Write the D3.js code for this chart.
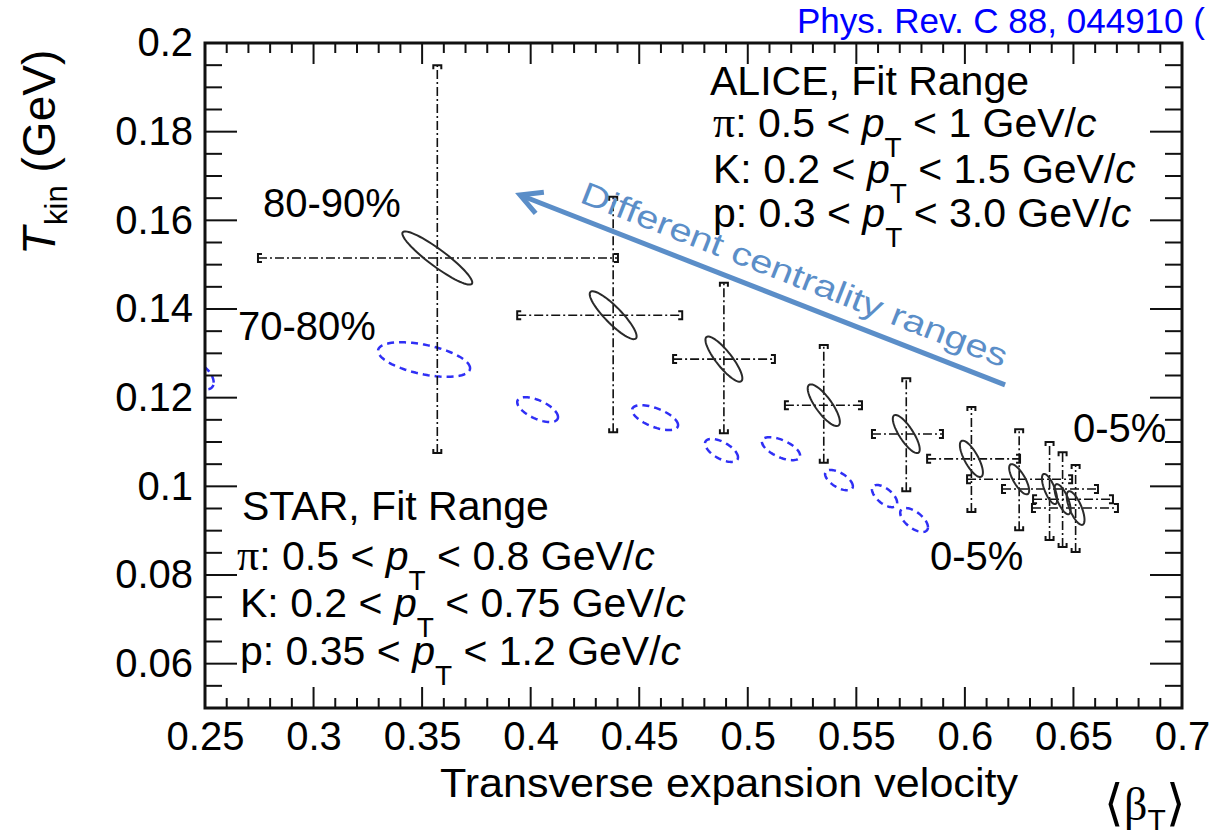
<!DOCTYPE html>
<html>
<head>
<meta charset="utf-8">
<script src="https://cdn.jsdelivr.net/npm/d3@7"></script>
<style>
  body { margin: 0; background: #fff; }
  svg text { font-family: "Liberation Sans", Arial, sans-serif; }
</style>
</head>
<body>
<svg id="chart" width="1210" height="836"></svg>
<script>
// ALICE blast-wave fits (black): centre, error bar ends, contour size + correlation
const aliceBeta   = [0.357, 0.438, 0.489, 0.535, 0.573, 0.603, 0.625, 0.639, 0.645, 0.651]
const aliceTkin   = [0.1515, 0.1386, 0.1287, 0.1183, 0.1118, 0.1062, 0.1016, 0.0994, 0.0971, 0.0951]
const aliceBetaLo = [0.2744, 0.3938, 0.4656, 0.5171, 0.5572, 0.5826, 0.601, 0.6171, 0.6314, 0.6309]
const aliceBetaHi = [0.4402, 0.4698, 0.5125, 0.5526, 0.5899, 0.6254, 0.6494, 0.6613, 0.6682, 0.6705]
const aliceTkinLo = [0.1075, 0.1122, 0.112, 0.1053, 0.0989, 0.0942, 0.0901, 0.0879, 0.0863, 0.0852]
const aliceTkinHi = [0.195, 0.1653, 0.1459, 0.1319, 0.1244, 0.1179, 0.1129, 0.11, 0.1077, 0.1048]
const aliceSigBeta = [0.0161, 0.0108, 0.0085, 0.0074, 0.0062, 0.0053, 0.0046, 0.0035, 0.0037, 0.0041]
const aliceSigTkin = [0.006, 0.0054, 0.0051, 0.0047, 0.0043, 0.0041, 0.0034, 0.0034, 0.0034, 0.0038]
const aliceRho     = [-0.92, -0.88, -0.85, -0.8, -0.8, -0.75, -0.75, -0.7, -0.7, -0.7]

// STAR contours (blue dashed)
const starBeta    = [0.248, 0.3509, 0.4032, 0.4573, 0.4879, 0.5153, 0.542, 0.563, 0.5766]
const starTkin    = [0.1249, 0.1286, 0.1173, 0.1155, 0.1081, 0.1085, 0.1014, 0.0978, 0.0924]
const starSigBeta = [0.006, 0.0212, 0.0094, 0.0106, 0.0076, 0.0088, 0.0064, 0.0058, 0.0064]
const starSigTkin = [0.003, 0.0039, 0.0028, 0.0028, 0.0026, 0.0026, 0.0023, 0.0025, 0.0027]
const starRho     = [-0.5, -0.5, -0.6, -0.6, -0.6, -0.6, -0.6, -0.6, -0.6]

// axes
const xTickValues = [0.25, 0.3, 0.35, 0.4, 0.45, 0.5, 0.55, 0.6, 0.65, 0.7]
const xTickLabels = ["0.25", "0.3", "0.35", "0.4", "0.45", "0.5", "0.55", "0.6", "0.65", "0.7"]
const yTickValues = [0.06, 0.08, 0.1, 0.12, 0.14, 0.16, 0.18, 0.2]
const yTickLabels = ["0.06", "0.08", "0.1", "0.12", "0.14", "0.16", "0.18", "0.2"]

// centrality labels, placed in data coordinates
const centLabels = ["80-90%", "70-80%", "0-5%", "0-5%"]
const centLabelBeta = [0.2767, 0.2652, 0.6498, 0.5839]
const centLabelTkin = [0.1607, 0.133, 0.110, 0.0811]

// arrow (tail -> head) in data coordinates
const arrowBeta = [0.6185, 0.3951]
const arrowTkin = [0.1229, 0.1657]

const svg = d3.select("#chart")
const fLeft = 205, fTop = 43, fRight = 1182, fBottom = 708

const x = d3.scaleLinear().domain([0.25, 0.7]).range([fLeft, fRight])
const y = d3.scaleLinear().domain([0.05, 0.2]).range([fBottom, fTop])

svg.append("rect").attr("width", 1210).attr("height", 836).attr("fill", "#fff")

svg.append("defs").append("clipPath").attr("id", "plotclip")
    .append("rect").attr("x", fLeft).attr("y", fTop)
    .attr("width", fRight - fLeft).attr("height", fBottom - fTop)

// contour ellipse from centre, half extents and correlation
const ellipseLine = d3.line().curve(d3.curveLinearClosed)
function ellipsePath(cx, cy, sx, sy, rho) {
    const pts = d3.range(0, 72).map(k => {
        const t = k / 72 * 2 * Math.PI
        return [x(cx + sx * Math.cos(t)),
                y(cy + sy * (rho * Math.cos(t) + Math.sqrt(1 - rho * rho) * Math.sin(t)))]
    })
    return ellipseLine(pts)
}

const plot = svg.append("g").attr("clip-path", "url(#plotclip)")

// STAR
plot.selectAll("path.star").data(starBeta).join("path")
    .attr("class", "star")
    .attr("d", (d, i) => ellipsePath(d, starTkin[i], starSigBeta[i], starSigTkin[i], starRho[i]))
    .attr("fill", "none").attr("stroke", "#2f2ff5").attr("stroke-width", 2.5)
    .attr("stroke-dasharray", "7,5")

// ALICE error bars
const bars = plot.append("g").attr("stroke", "#111").attr("stroke-width", 1.6).attr("fill", "none")
bars.selectAll("line.vbar").data(aliceBeta).join("line")
    .attr("class", "vbar")
    .attr("x1", d => x(d)).attr("x2", d => x(d))
    .attr("y1", (d, i) => y(aliceTkinLo[i])).attr("y2", (d, i) => y(aliceTkinHi[i]))
    .attr("stroke-dasharray", "9,3,2,3")
bars.selectAll("line.hbar").data(aliceBeta).join("line")
    .attr("class", "hbar")
    .attr("y1", (d, i) => y(aliceTkin[i])).attr("y2", (d, i) => y(aliceTkin[i]))
    .attr("x1", (d, i) => x(aliceBetaLo[i])).attr("x2", (d, i) => x(aliceBetaHi[i]))
    .attr("stroke-dasharray", "9,3,2,3")

const cap = 4
bars.selectAll("path.capTop").data(aliceBeta).join("path").attr("class", "capTop")
    .attr("d", (d, i) => { const X = x(d), Y = y(aliceTkinHi[i]); return `M${X - cap},${Y + cap}V${Y}H${X + cap}V${Y + cap}` })
    .attr("stroke-width", 2)
bars.selectAll("path.capBot").data(aliceBeta).join("path").attr("class", "capBot")
    .attr("d", (d, i) => { const X = x(d), Y = y(aliceTkinLo[i]); return `M${X - cap},${Y - cap}V${Y}H${X + cap}V${Y - cap}` })
    .attr("stroke-width", 2)
bars.selectAll("path.capL").data(aliceBeta).join("path").attr("class", "capL")
    .attr("d", (d, i) => { const X = x(aliceBetaLo[i]), Y = y(aliceTkin[i]); return `M${X + cap},${Y - cap}H${X}V${Y + cap}H${X + cap}` })
    .attr("stroke-width", 2)
bars.selectAll("path.capR").data(aliceBeta).join("path").attr("class", "capR")
    .attr("d", (d, i) => { const X = x(aliceBetaHi[i]), Y = y(aliceTkin[i]); return `M${X - cap},${Y - cap}H${X}V${Y + cap}H${X - cap}` })
    .attr("stroke-width", 2)

// ALICE contours
plot.selectAll("path.alice").data(aliceBeta).join("path")
    .attr("class", "alice")
    .attr("d", (d, i) => ellipsePath(d, aliceTkin[i], aliceSigBeta[i], aliceSigTkin[i], aliceRho[i]))
    .attr("fill", "none").attr("stroke", "#2a2a2a").attr("stroke-width", 2)

// centrality labels
svg.selectAll("text.cent").data(centLabels).join("text")
    .attr("class", "cent")
    .attr("x", (d, i) => x(centLabelBeta[i])).attr("y", (d, i) => y(centLabelTkin[i]))
    .attr("font-size", 40).attr("fill", "#000").text(d => d)

// rich text lines for the fit-range legends
function richLine(px, py, parts) {
    const t = svg.append("text").attr("x", px).attr("y", py).attr("font-size", 41).attr("fill", "#000")
    let shift = 0
    parts.forEach(p => {
        const [s, kind] = p
        const target = kind === "sub" ? 20 : 0
        const ts = t.append("tspan").text(s).attr("dy", target - shift)
        shift = target
        if (kind === "sub") ts.attr("font-size", 28)
        if (kind === "it") ts.attr("font-style", "italic")
        if (kind === "serif") ts.attr("font-family", "'Liberation Serif', serif").attr("font-size", 44)
    })
}
function rangeParts(species, lo, hi, serif) {
    return [[species, serif ? "serif" : ""], [": " + lo + " < "], ["p", "it"], ["T", "sub"],
            [" < " + hi + " GeV/"], ["c", "it"]]
}

richLine(710, 95, [["ALICE, Fit Range"]])
richLine(713, 137, rangeParts("π", "0.5", "1", true))
richLine(713, 183, rangeParts("K", "0.2", "1.5"))
richLine(713, 227, rangeParts("p", "0.3", "3.0"))

richLine(242, 520, [["STAR, Fit Range"]])
richLine(237, 570, rangeParts("π", "0.5", "0.8", true))
richLine(240, 617, rangeParts("K", "0.2", "0.75"))
richLine(240, 665, rangeParts("p", "0.35", "1.2"))

// y title
const yt = svg.append("text").attr("transform", "translate(55,255) rotate(-90)").attr("font-size", 46).attr("fill", "#000")
yt.append("tspan").text("T").attr("font-style", "italic")
yt.append("tspan").text("kin").attr("font-size", 31).attr("dy", 12).attr("dx", 2)
yt.append("tspan").text(" (GeV)").attr("dy", -12)

// x title
svg.append("text").attr("x", 440).attr("y", 797)
    .attr("font-family", "'Open Sans', sans-serif").attr("font-size", 41).attr("fill", "#000")
    .attr("textLength", 578).attr("lengthAdjust", "spacingAndGlyphs")
    .text("Transverse expansion velocity")

const bt = svg.append("text").attr("x", 1104).attr("y", 820).attr("font-size", 50).attr("fill", "#000")
    .attr("font-family", "'DejaVu Sans', sans-serif")
bt.append("tspan").text("⟨").attr("font-weight", 300)
bt.append("tspan").text("β").attr("font-family", "'Liberation Serif', serif").attr("font-size", 46)
bt.append("tspan").text("T").attr("font-family", "'Liberation Sans', sans-serif").attr("font-size", 30).attr("dy", 10)
bt.append("tspan").text("⟩").attr("dy", -10)

// citation
svg.append("text").attr("x", 797).attr("y", 33).attr("font-size", 35).attr("fill", "#0000ff")
    .text("Phys. Rev. C 88, 044910 (")

// arrow annotation
const blue = "#5b8ec8"
const tail = [x(arrowBeta[0]), y(arrowTkin[0])], head = [x(arrowBeta[1]), y(arrowTkin[1])]
const ang = Math.atan2(tail[1] - head[1], tail[0] - head[0])
const arm = 24, spread = 28 * Math.PI / 180
svg.append("line").attr("x1", tail[0]).attr("y1", tail[1]).attr("x2", head[0] + 2 * Math.cos(ang)).attr("y2", head[1] + 2 * Math.sin(ang))
    .attr("stroke", blue).attr("stroke-width", 5)
svg.append("path")
    .attr("d", `M${head[0] + arm * Math.cos(ang - spread)},${head[1] + arm * Math.sin(ang - spread)}L${head[0]},${head[1]}L${head[0] + arm * Math.cos(ang + spread)},${head[1] + arm * Math.sin(ang + spread)}`)
    .attr("fill", "none").attr("stroke", blue).attr("stroke-width", 5).attr("stroke-linejoin", "miter")

const deg = ang * 180 / Math.PI
const along = 57, off = 15
const tx = head[0] + along * Math.cos(ang) + off * Math.sin(ang)
const ty = head[1] + along * Math.sin(ang) - off * Math.cos(ang)
svg.append("text").attr("transform", `translate(${tx},${ty}) rotate(${deg})`)
    .attr("font-family", "'Open Sans', sans-serif").attr("font-size", 32).attr("fill", blue)
    .attr("textLength", 455).attr("lengthAdjust", "spacingAndGlyphs")
    .text("Different centrality ranges")

// tick labels from d3 axes
function styleAxis(g) {
    g.select(".domain").remove()
    g.selectAll("line").remove()
    g.attr("font-size", 40).attr("font-family", "'Liberation Sans', Arial, sans-serif")
    g.selectAll("text").attr("fill", "#000")
}
svg.append("g").attr("transform", `translate(0,${fBottom})`)
    .call(d3.axisBottom(x).tickValues(xTickValues).tickFormat((d, i) => xTickLabels[i])
        .tickSizeInner(0).tickSizeOuter(0).tickPadding(14)).call(styleAxis)
svg.append("g").attr("transform", `translate(${fLeft},0)`)
    .call(d3.axisLeft(y).tickValues(yTickValues).tickFormat((d, i) => yTickLabels[i])
        .tickSizeInner(0).tickSizeOuter(0).tickPadding(12)).call(styleAxis)

// inward tick marks on all four sides, positioned by the scales
const marks = svg.append("g").attr("stroke", "#111").attr("stroke-width", 2)
const xMinor = x.ticks(45), yMinor = y.ticks(30)
marks.selectAll("line.xb").data(xMinor).join("line").attr("class", "xb")
    .attr("x1", d => x(d)).attr("x2", d => x(d))
    .attr("y1", fBottom).attr("y2", d => fBottom - (xTickValues.some(v => Math.abs(v - d) < 1e-9) ? 21 : 10))
marks.selectAll("line.xt").data(xMinor).join("line").attr("class", "xt")
    .attr("x1", d => x(d)).attr("x2", d => x(d))
    .attr("y1", fTop).attr("y2", d => fTop + (xTickValues.some(v => Math.abs(v - d) < 1e-9) ? 21 : 10))
marks.selectAll("line.yl").data(yMinor).join("line").attr("class", "yl")
    .attr("y1", d => y(d)).attr("y2", d => y(d))
    .attr("x1", fLeft).attr("x2", d => fLeft + (yTickValues.some(v => Math.abs(v - d) < 1e-9) ? 32 : 17))
marks.selectAll("line.yr").data(yMinor).join("line").attr("class", "yr")
    .attr("y1", d => y(d)).attr("y2", d => y(d))
    .attr("x1", fRight).attr("x2", d => fRight - (yTickValues.some(v => Math.abs(v - d) < 1e-9) ? 32 : 17))

svg.append("rect").attr("x", fLeft).attr("y", fTop)
    .attr("width", fRight - fLeft).attr("height", fBottom - fTop)
    .attr("fill", "none").attr("stroke", "#111").attr("stroke-width", 3)
</script>
</body>
</html>
